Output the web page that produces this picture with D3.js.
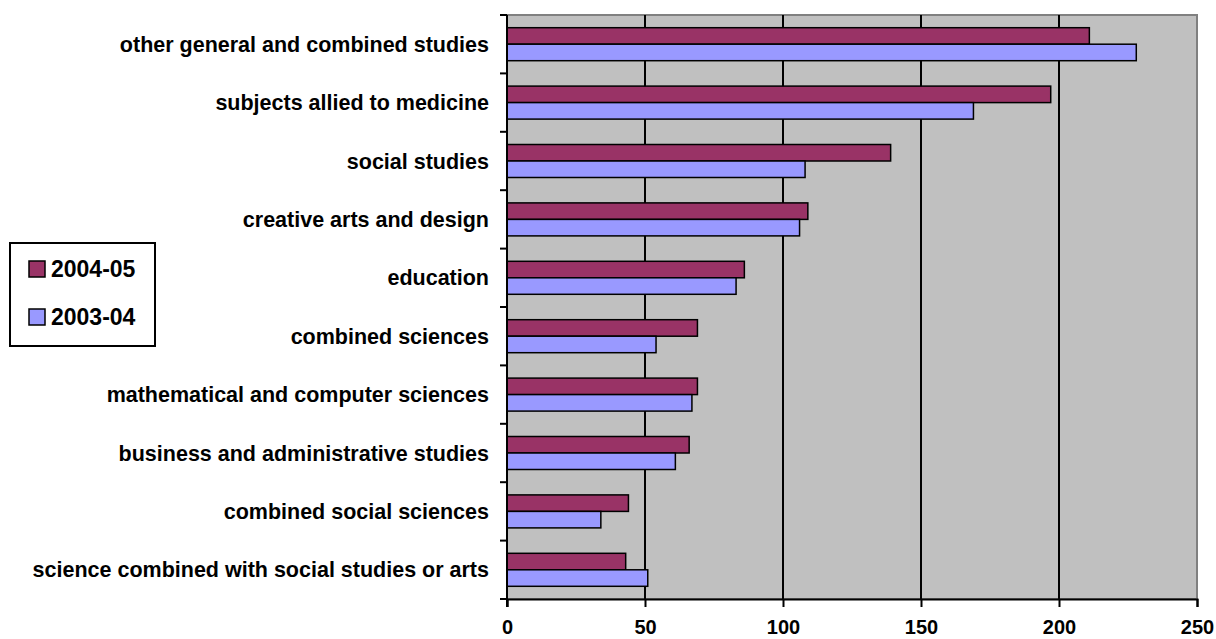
<!DOCTYPE html>
<html>
<head>
<meta charset="utf-8">
<script src="https://cdn.jsdelivr.net/npm/d3@7"></script>
<style>
  body { margin: 0; background: #fff; }
  svg text { font-family: "Liberation Sans", Arial, sans-serif; font-weight: bold; fill: #000; }
</style>
</head>
<body>
<div id="chart"></div>
<script>
const categories = [
  'other general and combined studies',
  'subjects allied to medicine',
  'social studies',
  'creative arts and design',
  'education',
  'combined sciences',
  'mathematical and computer sciences',
  'business and administrative studies',
  'combined social sciences',
  'science combined with social studies or arts'
];
const series = ['2004-05', '2003-04'];
const values0405 = [211, 197, 139, 109, 86, 69, 69, 66, 44, 43];
const values0304 = [228, 169, 108, 106, 83, 54, 67, 61, 34, 51];
const xTicks = [0, 50, 100, 150, 200, 250];
const colors = ['#993366', '#9999FF'];

const width = 1216;
const height = 639;
const plot = { left: 507, right: 1197, top: 15, bottom: 599 };

const svg = d3.select('#chart')
  .append('svg')
  .attr('width', width)
  .attr('height', height);

const x = d3.scaleLinear()
  .domain([0, 250])
  .range([plot.left, plot.right]);

const y = d3.scaleBand()
  .domain(categories)
  .range([plot.top, plot.bottom])
  .paddingInner(0.435)
  .paddingOuter(0.2175);

const ySub = d3.scaleBand()
  .domain(series)
  .range([0, y.bandwidth()]);

// plot background
svg.append('rect')
  .attr('x', plot.left)
  .attr('y', plot.top)
  .attr('width', plot.right - plot.left)
  .attr('height', plot.bottom - plot.top)
  .attr('fill', '#C0C0C0')
  .attr('stroke', '#808080')
  .attr('stroke-width', 2);

// gridlines
svg.append('g')
  .selectAll('line')
  .data(xTicks.slice(1, -1))
  .join('line')
  .attr('x1', d => x(d))
  .attr('x2', d => x(d))
  .attr('y1', plot.top)
  .attr('y2', plot.bottom)
  .attr('stroke', '#000')
  .attr('stroke-width', 2);

const rows = categories.map((c, i) => ({ cat: c, vals: [values0405[i], values0304[i]] }));

svg.append('g')
  .selectAll('g')
  .data(rows)
  .join('g')
  .attr('transform', d => `translate(0,${y(d.cat)})`)
  .selectAll('rect')
  .data(d => d.vals.map((v, j) => ({ key: series[j], v, j })))
  .join('rect')
  .attr('x', x(0))
  .attr('y', d => ySub(d.key))
  .attr('width', d => x(d.v) - x(0))
  .attr('height', ySub.bandwidth())
  .attr('fill', d => colors[d.j])
  .attr('stroke', '#000')
  .attr('stroke-width', 1.5);

// x axis
const xAxis = svg.append('g')
  .attr('transform', `translate(0,${plot.bottom})`)
  .call(d3.axisBottom(x).tickValues(xTicks).tickSize(8).tickPadding(13));
xAxis.select('.domain').attr('stroke-width', 2);
xAxis.selectAll('.tick line').attr('stroke-width', 2);
xAxis.selectAll('text').style('font-size', '20px');

// y axis: ticks at band boundaries
const boundaries = d3.range(categories.length + 1).map(i => plot.top + i * (plot.bottom - plot.top) / categories.length);
const yAxisG = svg.append('g');
yAxisG.append('line')
  .attr('x1', plot.left).attr('x2', plot.left)
  .attr('y1', plot.top).attr('y2', plot.bottom + 8)
  .attr('stroke', '#000').attr('stroke-width', 2);
yAxisG.selectAll('line.tk')
  .data(boundaries)
  .join('line')
  .attr('class', 'tk')
  .attr('x1', plot.left - 7).attr('x2', plot.left)
  .attr('y1', d => d).attr('y2', d => d)
  .attr('stroke', '#000').attr('stroke-width', 2);
yAxisG.selectAll('text')
  .data(categories)
  .join('text')
  .attr('x', plot.left - 18)
  .attr('y', d => y(d) + y.bandwidth() / 2)
  .attr('dy', '0.35em')
  .attr('text-anchor', 'end')
  .style('font-size', '21.5px')
  .text(d => d);

// legend
const legend = svg.append('g');
legend.append('rect')
  .attr('x', 10).attr('y', 243)
  .attr('width', 145).attr('height', 103)
  .attr('fill', '#fff')
  .attr('stroke', '#000')
  .attr('stroke-width', 2);
const legendItems = legend.selectAll('g')
  .data(series)
  .join('g')
  .attr('transform', (d, i) => `translate(29,${269 + i * 48})`);
legendItems.append('rect')
  .attr('x', 0).attr('y', -8)
  .attr('width', 16).attr('height', 16)
  .attr('fill', (d, i) => colors[i])
  .attr('stroke', '#000')
  .attr('stroke-width', 1.5);
legendItems.append('text')
  .attr('x', 22)
  .attr('y', 0)
  .attr('dy', '0.35em')
  .style('font-size', '23px')
  .text(d => d);
</script>
</body>
</html>
